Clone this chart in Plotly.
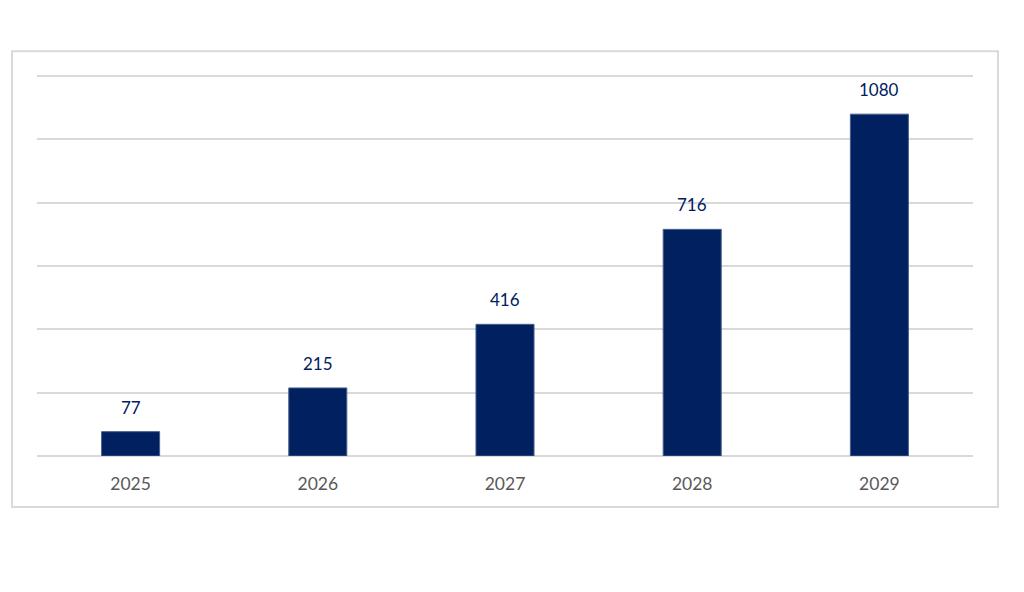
import plotly.graph_objects as go

years = ["2025", "2026", "2027", "2028", "2029"]
values = [77, 215, 416, 716, 1080]
bar_color = "#002060"
grid_color = "#d9d9d9"

fig = go.Figure()
fig.add_trace(go.Bar(
    x=years, y=values,
    marker=dict(color=bar_color, line=dict(color="#4a5f8c", width=1)),
    width=0.31,
    hoverinfo="x+y",
))

for i, v in enumerate(values):
    fig.add_annotation(x=i, y=v, text=str(v), showarrow=False,
                       yanchor="bottom", yshift=12,
                       font=dict(family="Lato, Calibri, sans-serif", size=17, color=bar_color))

fig.add_shape(type="rect", xref="paper", yref="paper",
              x0=-0.0267, x1=1.0267, y0=-0.133, y1=1.0567,
              line=dict(color=grid_color, width=2), layer="below")

fig.update_layout(
    width=1024, height=592,
    margin=dict(l=29, r=59, t=65, b=144),
    paper_bgcolor="white", plot_bgcolor="white",
    showlegend=False,
    font=dict(family="Lato, Calibri, sans-serif", size=17, color="#595959"),
    xaxis=dict(type="category", range=[-0.5, 4.5], showgrid=False, showline=False, ticks="",
               ticklabelstandoff=15, tickfont=dict(size=17.5, color="#595959")),
    yaxis=dict(range=[0, 1210], tickvals=[0, 200, 400, 600, 800, 1000, 1200],
               showgrid=True, gridcolor=grid_color,
               gridwidth=2, showticklabels=False, zeroline=True,
               zerolinecolor=grid_color, zerolinewidth=2, showline=False),
)

fig.write_html("out.html")
